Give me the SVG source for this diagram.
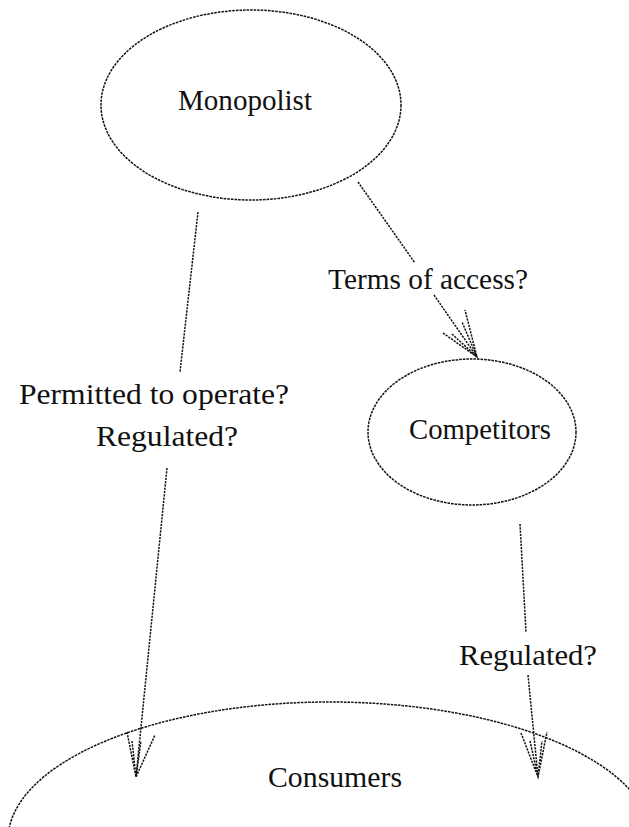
<svg xmlns="http://www.w3.org/2000/svg" width="629" height="827" viewBox="0 0 629 827">
<style>
.shape{fill:none;stroke:#111;stroke-width:1.5;stroke-dasharray:2.6 1}
.edge{fill:none;stroke:#111;stroke-width:1.5;stroke-dasharray:2.2 1.1}
.lbl{font-family:"Liberation Serif","Times New Roman",serif;font-size:29px;fill:#111;text-anchor:middle}
</style>
<rect width="629" height="827" fill="#fff"/>
<g id="node-monopolist">
<ellipse class="shape" cx="251" cy="105" rx="150" ry="95"/>
<text class="lbl" x="245" y="110" textLength="134" lengthAdjust="spacingAndGlyphs">Monopolist</text>
</g>
<g id="node-competitors">
<ellipse class="shape" cx="472" cy="432" rx="104" ry="73"/>
<text class="lbl" x="480" y="439" textLength="142" lengthAdjust="spacingAndGlyphs">Competitors</text>
</g>
<g id="node-consumers">
<ellipse class="shape" cx="330" cy="840" rx="322" ry="138"/>
<text class="lbl" x="335" y="787" textLength="134" lengthAdjust="spacingAndGlyphs">Consumers</text>
</g>
<g id="connectors">
<g id="edge-monopolist-consumers">
<line class="edge" x1="198" y1="212" x2="180" y2="372"/>
<line class="edge" x1="167" y1="468" x2="136" y2="777"/>
<path class="edge" d="M127 732 L136 777 L155 735 M132 741 L136 777 L141 741"/>
<text class="lbl" x="154" y="404" textLength="270" lengthAdjust="spacingAndGlyphs">Permitted to operate?</text>
<text class="lbl" x="167" y="446" textLength="142" lengthAdjust="spacingAndGlyphs">Regulated?</text>
</g>
<g id="edge-monopolist-competitors">
<line class="edge" x1="358" y1="182" x2="415" y2="263"/>
<line class="edge" x1="434" y1="295" x2="477" y2="357"/>
<path class="edge" d="M443 333 L477 357 L465 310 M452 334 L477 357 L462 322"/>
<text class="lbl" x="428" y="289" textLength="200" lengthAdjust="spacingAndGlyphs">Terms of access?</text>
</g>
<g id="edge-competitors-consumers">
<line class="edge" x1="520" y1="524" x2="526" y2="632"/>
<line class="edge" x1="528" y1="675" x2="538" y2="777"/>
<path class="edge" d="M521 733 L538 777 L547 732 M530 741 L538 777 L542 741"/>
<text class="lbl" x="528" y="665" textLength="138" lengthAdjust="spacingAndGlyphs">Regulated?</text>
</g>
</g>
</svg>
